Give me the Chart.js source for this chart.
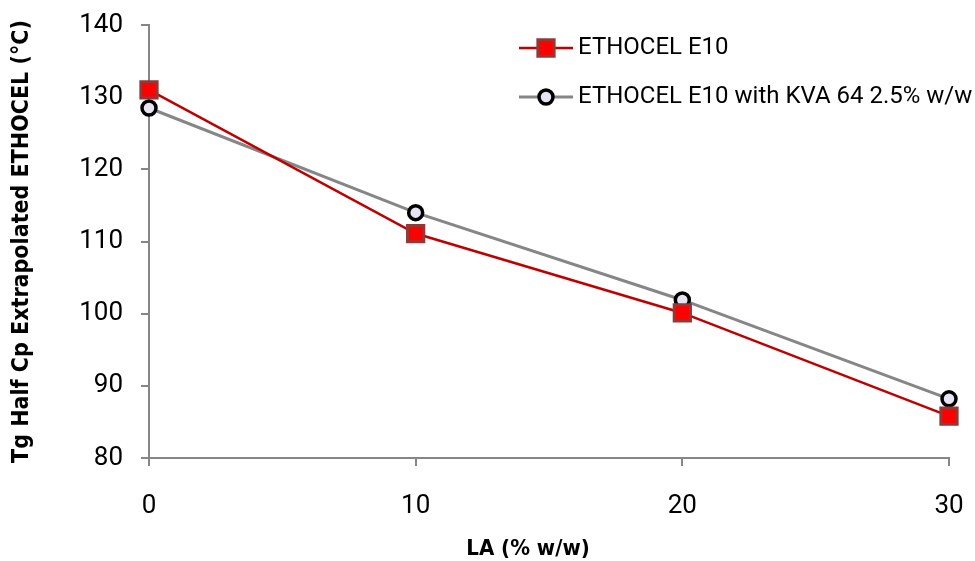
<!DOCTYPE html>
<html>
<head>
<meta charset="utf-8">
<script src="https://cdn.jsdelivr.net/npm/chart.js@4.4.1/dist/chart.umd.min.js"></script>
<style>
html,body{margin:0;padding:0;background:#fff;}
#wrap{width:975px;height:561px;}
</style>
</head>
<body>
<div id="wrap"><canvas id="c" width="975" height="561"></canvas></div>
<script>
const xValues = [0, 10, 20, 30];
const seriesE10 = [131.0, 111.1, 100.1, 85.8];
const seriesE10KVA = [128.5, 114.0, 101.9, 88.2];
const seriesNames = ["ETHOCEL E10", "ETHOCEL E10 with KVA 64 2.5% w/w"];
const xTitle = "LA (% w/w)";
const yTitle = "Tg Half Cp Extrapolated ETHOCEL (\u00B0C)";

const tickFont = {family: "Roboto, 'Open Sans', sans-serif", size: 26};
const titleFamily = "'Liberation Sans Narrow', 'DejaVu Sans Condensed', 'Arial Narrow', Roboto, sans-serif";

function zeroPad(s) { s.paddingLeft = 0; s.paddingRight = 0; s.paddingTop = 0; s.paddingBottom = 0; }

const legendPlugin = {
  id: 'customLegend',
  afterDraw(chart) {
    const ctx = chart.ctx;
    const x0 = 519, x1 = 573, tx = 578;
    const rows = [48, 97];
    chart.data.datasets.forEach((ds, i) => {
      const y = rows[i];
      ctx.save();
      ctx.strokeStyle = ds.borderColor;
      ctx.lineWidth = ds.borderWidth;
      ctx.beginPath(); ctx.moveTo(x0, y); ctx.lineTo(x1, y); ctx.stroke();
      ctx.fillStyle = ds.pointBackgroundColor;
      ctx.strokeStyle = ds.pointBorderColor;
      ctx.lineWidth = ds.pointBorderWidth;
      ctx.beginPath();
      if (ds.pointStyle === 'circle') {
        ctx.arc((x0 + x1) / 2, y, ds.pointRadius, 0, Math.PI * 2);
      } else {
        const s = Math.SQRT1_2 * ds.pointRadius;
        ctx.rect((x0 + x1) / 2 - s, y - s, 2 * s, 2 * s);
      }
      ctx.fill(); ctx.stroke();
      ctx.fillStyle = '#000';
      ctx.font = "24px Roboto, 'Open Sans', sans-serif";
      ctx.textBaseline = 'middle';
      ctx.textAlign = 'left';
      ctx.fillText(ds.label, tx, y);
      ctx.restore();
    });
    // x-axis title (offset left of centre as in the original)
    ctx.save();
    ctx.fillStyle = '#000';
    ctx.font = "bold 22px " + titleFamily;
    ctx.textAlign = 'center';
    ctx.textBaseline = 'middle';
    ctx.fillText(xTitle, 528, 549);
    ctx.restore();
  }
};

new Chart(document.getElementById('c'), {
  type: 'line',
  data: {
    datasets: [
      {
        label: seriesNames[0],
        data: xValues.map((x, i) => ({x: x, y: seriesE10[i]})),
        borderColor: '#C00000',
        borderWidth: 2.5,
        pointStyle: 'rect',
        pointRadius: 11.5,
        pointBorderWidth: 3,
        pointBackgroundColor: '#FF0000',
        pointBorderColor: '#953735',
        tension: 0,
        clip: false
      },
      {
        label: seriesNames[1],
        data: xValues.map((x, i) => ({x: x, y: seriesE10KVA[i]})),
        borderColor: '#868686',
        borderWidth: 3,
        pointStyle: 'circle',
        pointRadius: 7,
        pointBorderWidth: 3.5,
        pointBackgroundColor: '#E6E4F0',
        pointBorderColor: '#000000',
        tension: 0,
        clip: false
      }
    ]
  },
  options: {
    responsive: false,
    animation: false,
    layout: {padding: {left: 0, right: 26, top: 25, bottom: 0}},
    plugins: {legend: {display: false}, tooltip: {enabled: false}},
    scales: {
      x: {
        type: 'linear',
        min: 0, max: 30,
        ticks: {stepSize: 10, font: tickFont, color: '#000', padding: 25},
        grid: {display: true, drawOnChartArea: false, drawTicks: true, tickLength: 8, color: '#868686', lineWidth: 2},
        border: {display: true, color: '#868686', width: 2},
        title: {display: false, text: xTitle},
        afterFit(s) { s.height = 103; zeroPad(s); }
      },
      y: {
        min: 80, max: 140,
        ticks: {stepSize: 10, font: tickFont, color: '#000', padding: 18},
        grid: {display: true, drawOnChartArea: false, drawTicks: true, tickLength: 8, color: '#868686', lineWidth: 2},
        border: {display: true, color: '#868686', width: 2},
        title: {display: true, text: yTitle, font: {family: titleFamily, size: 23, weight: 'bold'}, color: '#000', padding: {top: 8, bottom: 0}},
        afterFit(s) { s.width = 149; zeroPad(s); }
      }
    }
  },
  plugins: [legendPlugin]
});
</script>
</body>
</html>
